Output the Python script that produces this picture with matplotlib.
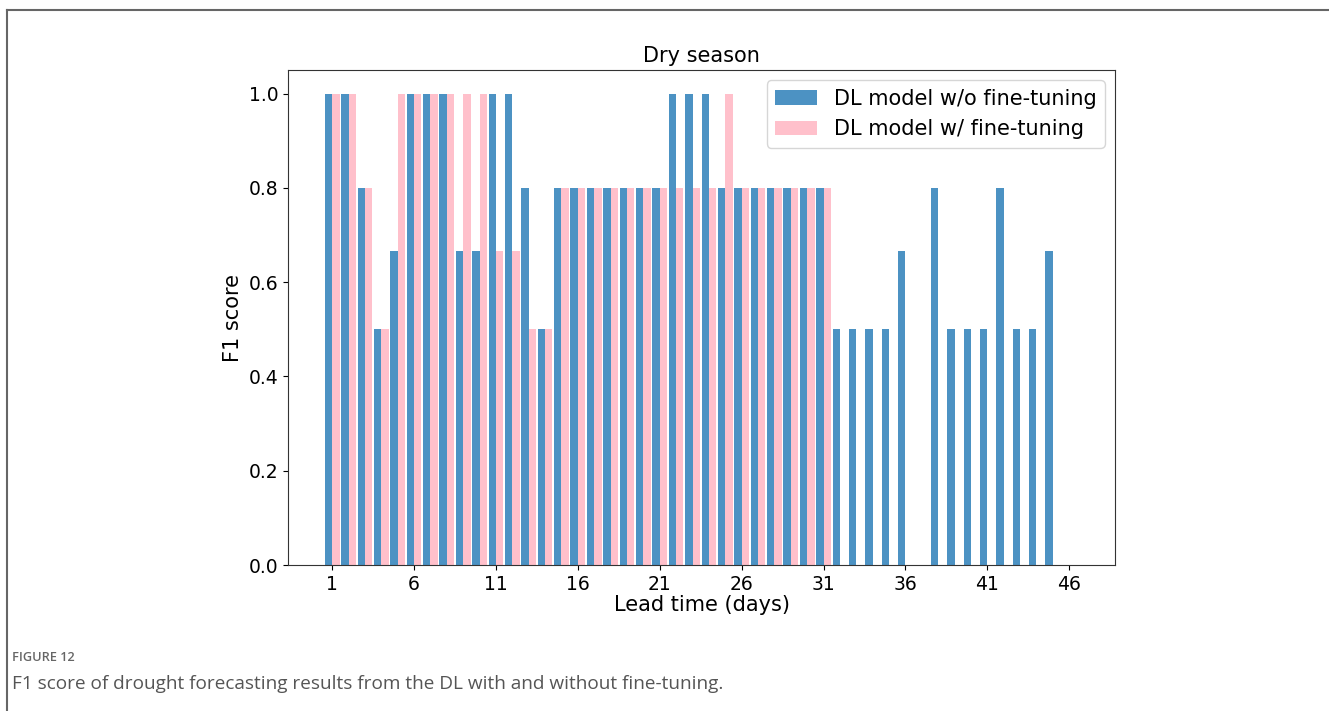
import numpy as np
import matplotlib
matplotlib.use("Agg")
import matplotlib.pyplot as plt
from matplotlib.lines import Line2D

# F1 scores per lead time (days)
days_wo = np.arange(1, 46)
f1_wo = [1.0, 1.0, 0.8, 0.5, 0.667, 1.0, 1.0, 1.0, 0.667, 0.667,
         1.0, 1.0, 0.8, 0.5, 0.8, 0.8, 0.8, 0.8, 0.8, 0.8,
         0.8, 1.0, 1.0, 1.0, 0.8, 0.8, 0.8, 0.8, 0.8, 0.8,
         0.8, 0.5, 0.5, 0.5, 0.5, 0.667, 0.0, 0.8, 0.5, 0.5,
         0.5, 0.8, 0.5, 0.5, 0.667]

days_w = np.arange(1, 32)
f1_w = [1.0, 1.0, 0.8, 0.5, 1.0, 1.0, 1.0, 1.0, 1.0, 1.0,
        0.667, 0.667, 0.5, 0.5, 0.8, 0.8, 0.8, 0.8, 0.8, 0.8,
        0.8, 0.8, 0.8, 0.8, 1.0, 0.8, 0.8, 0.8, 0.8, 0.8,
        0.8]

xticks = np.arange(1, 47, 5)
width = 0.45

fig = plt.figure(figsize=(13.29, 7.11), dpi=100)
ax = fig.add_axes([0.2167, 0.2053, 0.6223, 0.6962])

ax.bar(days_wo - width / 2, f1_wo, width, color="#1f77b4", alpha=0.8,
       label="DL model w/o fine-tuning")
ax.bar(days_w + width / 2, f1_w, width, color="pink",
       label="DL model w/ fine-tuning")

ax.set_xlim(-1.7, 48.8)
ax.set_xticks(xticks)
ax.set_yticks(np.arange(0, 1.01, 0.2))
ax.tick_params(labelsize=13.5)
ax.set_xlabel("Lead time (days)", fontsize=15, labelpad=1)
ax.set_ylabel("F1 score", fontsize=15)
ax.set_title("Dry season", fontsize=15, pad=6)
ax.legend(loc="upper right", fontsize=15)
for s in ax.spines.values():
    s.set_color("#333333")

# page frame and caption
fig.add_artist(Line2D([0.0053, 1.0], [0.986, 0.986], color="#666666", lw=1.5))
fig.add_artist(Line2D([0.0053, 0.0053], [0.0, 0.986], color="#666666", lw=1.5))
fig.text(0.009, 0.075, "FIGURE 12", fontsize=9.2, color="#666666", weight="semibold",
         family=["Open Sans", "DejaVu Sans"], va="center")
fig.text(0.009, 0.038, "F1 score of drought forecasting results from the DL with and without fine-tuning.",
         fontsize=13.7, color="#555555", family=["Open Sans", "DejaVu Sans"], va="center")

fig.savefig("out.png", dpi=100)
